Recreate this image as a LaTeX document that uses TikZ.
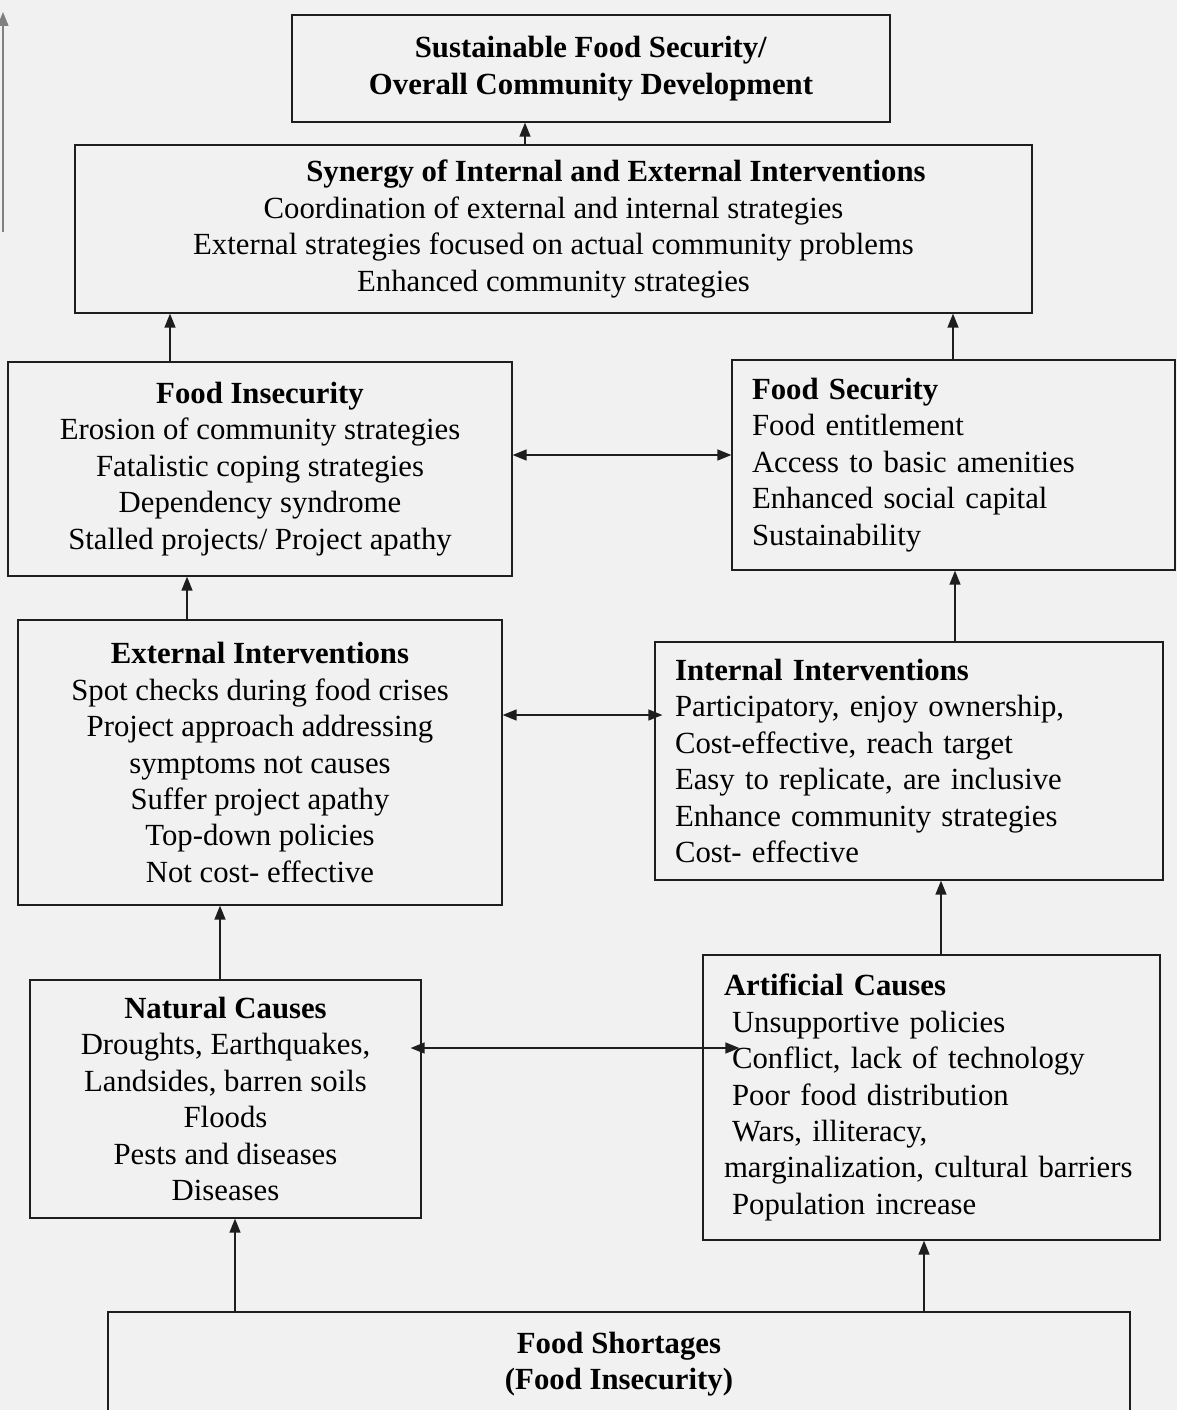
\documentclass[tikz,border=0pt]{standalone}
\usepackage{fontspec}
\setmainfont{Liberation Serif}
\usepackage{xcolor}
\usetikzlibrary{arrows.meta, positioning, calc}
\definecolor{FS_LINE}{HTML}{1E1E1E}
\definecolor{FS_PAPER}{HTML}{F1F1F1}
\tikzset{
  cbox/.style={
    rectangle, draw=FS_LINE, line width=0.75pt,
    align=center, inner sep=0pt,
    font=\fontsize{17.5}{20.7}\selectfont},
  lbox/.style={
    rectangle, draw=FS_LINE, line width=0.75pt,
    align=left, inner xsep=0.4cm, inner ysep=0pt,
    font=\fontsize{17.5}{20.7}\selectfont},
  arr/.style={-{Triangle[length=2.8mm,width=2.2mm]}, line width=0.75pt, color=FS_LINE},
  darr/.style={{Triangle[length=2.8mm,width=2.2mm]}-{Triangle[length=2.8mm,width=2.2mm]},
    line width=0.75pt, color=FS_LINE},
}
\newcommand{\ind}{\hspace*{0.16cm}}

\begin{document}
\begin{tikzpicture}[x=0.02cm, y=-0.02cm]

  \useasboundingbox[fill=FS_PAPER] (0,0) rectangle (1177,1410);

  % top of the chain
  \node[cbox, minimum width=11.96cm, minimum height=2.14cm] (sust) at (591,68.5)
    {\textbf{Sustainable Food Security/}\\\textbf{Overall Community Development}};
  \node[cbox, minimum width=19.14cm, minimum height=3.36cm] (syn) at (553.5,229)
    {\hspace*{2.5cm}\textbf{Synergy of Internal and External Interventions}\\
     Coordination of external and internal strategies\\
     External strategies focused on actual community problems\\
     Enhanced community strategies};

  % outcomes
  \node[cbox, minimum width=10.08cm, minimum height=4.28cm] (fins) at (260,469)
    {\textbf{Food Insecurity}\\Erosion of community strategies\\
     Fatalistic coping strategies\\Dependency syndrome\\
     Stalled projects/ Project apathy};
  \node[lbox, text width=8.06cm, minimum height=4.2cm] (fsec) at (953.5,465)
    {\textbf{Food Security}\\Food entitlement\\Access to basic amenities\\
     Enhanced social capital\\Sustainability};

  % interventions
  \node[cbox, minimum width=9.68cm, minimum height=5.7cm] (ext) at (260,762.5)
    {\textbf{External Interventions}\\Spot checks during food crises\\
     Project approach addressing\\symptoms not causes\\
     Suffer project apathy\\Top-down policies\\Not cost- effective};
  \node[lbox, text width=9.36cm, minimum height=4.76cm] (int) at (909,761)
    {\textbf{Internal Interventions}\\Participatory, enjoy ownership,\\
     Cost-effective, reach target\\Easy to replicate, are inclusive\\
     Enhance community strategies\\Cost- effective};

  % causes
  \node[cbox, minimum width=7.82cm, minimum height=4.76cm] (nat) at (225.5,1099)
    {\textbf{Natural Causes}\\Droughts, Earthquakes,\\Landsides, barren soils\\
     Floods\\Pests and diseases\\Diseases};
  \node[lbox, inner xsep=0.42cm, text width=8.3cm, minimum height=5.7cm] (art) at (931.5,1097.5)
    {\textbf{Artificial Causes}\\\ind Unsupportive policies\\\ind Conflict, lack of technology\\
     \ind Poor food distribution\\\ind Wars, illiteracy,\\
     marginalization, cultural barriers\\\ind Population increase};

  \node[cbox, minimum width=20.44cm, minimum height=2.08cm] (short) at (619,1364)
    {\textbf{Food Shortages}\\\textbf{(Food Insecurity)}};

  % columns and rows of the connectors
  \coordinate (k1) at (525,0);
  \coordinate (k2) at (170,0);
  \coordinate (k3) at (953,0);
  \coordinate (k4) at (187,0);
  \coordinate (k5) at (955,0);
  \coordinate (k6) at (220,0);
  \coordinate (k7) at (941,0);
  \coordinate (k8) at (235,0);
  \coordinate (k9) at (924,0);
  \coordinate (r1) at (0,455);
  \coordinate (r2) at (0,715);
  \coordinate (r3) at (0,1048);

  \draw[arr] (syn.north -| k1) -- (sust.south -| k1);
  \draw[arr] (fins.north -| k2) -- (syn.south -| k2);
  \draw[arr] (fsec.north -| k3) -- (syn.south -| k3);
  \draw[arr] (ext.north -| k4) -- (fins.south -| k4);
  \draw[arr] (int.north -| k5) -- (fsec.south -| k5);
  \draw[arr] (nat.north -| k6) -- (ext.south -| k6);
  \draw[arr] (art.north -| k7) -- (int.south -| k7);
  \draw[arr] (short.north -| k8) -- (nat.south -| k8);
  \draw[arr] (short.north -| k9) -- (art.south -| k9);

  \draw[darr] (fins.east |- r1) -- (fsec.west |- r1);
  \draw[darr, shorten >=-0.16cm] (ext.east |- r2) -- (int.west |- r2);
  \draw[darr, shorten <=-0.22cm, shorten >=-0.74cm] (nat.east |- r3) -- (art.west |- r3);

  % margin arrow at the page edge
  \coordinate (mtop) at (3,12);
  \coordinate (mbot) at (3,232);
  \draw[arr, color=gray] (mbot) -- (mtop);

\end{tikzpicture}
\end{document}
